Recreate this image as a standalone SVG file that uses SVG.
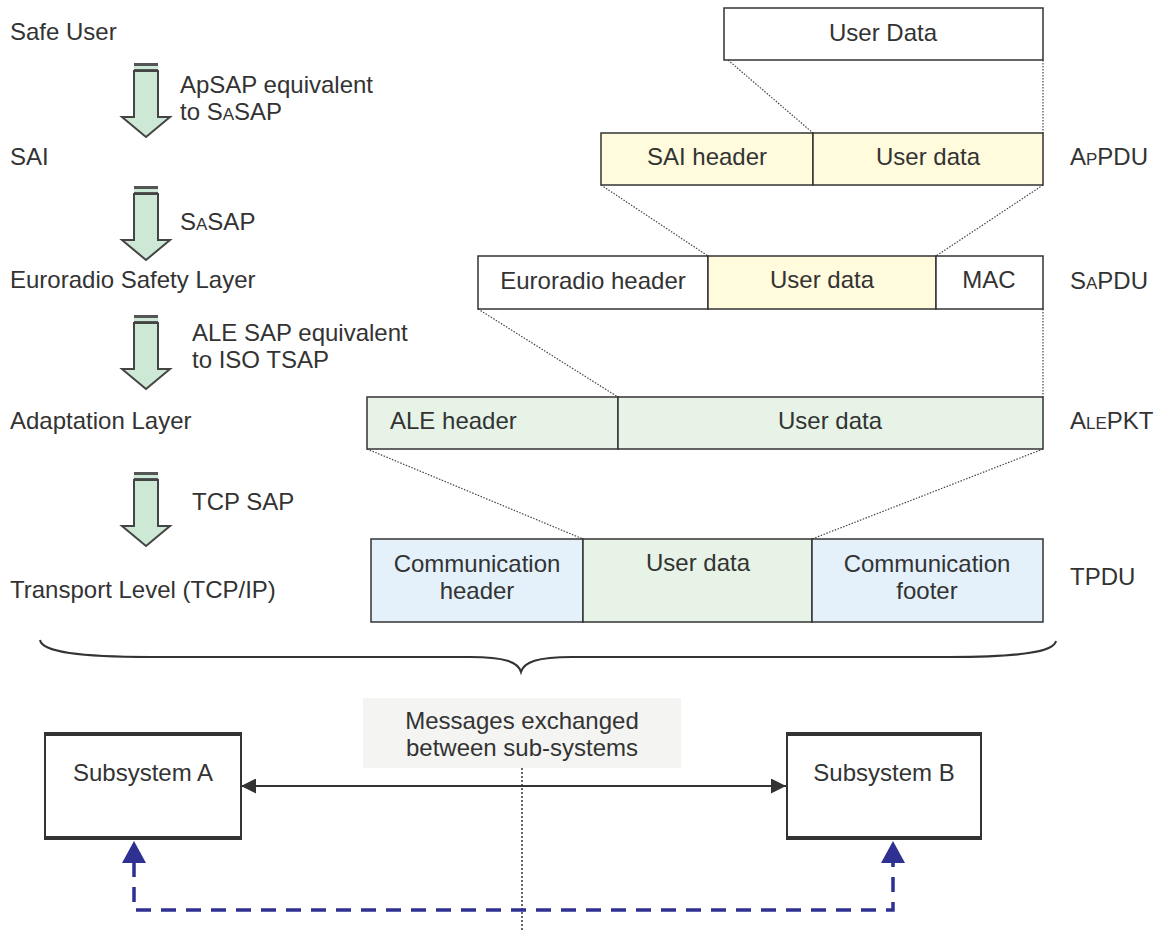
<svg xmlns="http://www.w3.org/2000/svg" width="1168" height="931" viewBox="0 0 1168 931">
<defs>
<style>
text{font-family:"Liberation Sans",Arial,sans-serif;font-size:24px;fill:#333}
.c{text-anchor:middle}
.sc{font-size:17px}
.box{stroke:#333;stroke-width:1.5}
.w{fill:#fff}
.y{fill:#fffbdc}
.g{fill:#e6f3e6}
.b{fill:#e4f1fb}
.dot{stroke:#444;stroke-width:1.2;stroke-dasharray:1.5 1.5;fill:none}
.sap{fill:#cde8d5;stroke:#444;stroke-width:2}
</style>
<marker id="ah" viewBox="0 0 10 10" refX="10" refY="5" markerWidth="19" markerHeight="15" markerUnits="userSpaceOnUse" orient="auto-start-reverse">
<path d="M0,0 L10,5 L0,10 z" fill="#333"/>
</marker>
<g id="sapArrow">
<rect x="-12" y="0" width="24" height="3" fill="#555"/>
<rect x="-12" y="3" width="24" height="3" fill="#cde8d5"/>
<rect x="-12" y="6" width="24" height="1.5" fill="#555"/>
<path class="sap" d="M-12,8 L12,8 L12,54 L24,54 L0,74 L-24,54 L-12,54 z"/>
</g>
</defs>

<g id="layer-labels">
<text x="10" y="40">Safe User</text>
<text x="10" y="165">SAI</text>
<text x="10" y="288">Euroradio Safety Layer</text>
<text x="10" y="429">Adaptation Layer</text>
<text x="10" y="598">Transport Level (TCP/IP)</text>
</g>

<g id="sap1"><use href="#sapArrow" x="146" y="63"/>
<text x="180" y="93">ApSAP equivalent</text>
<text x="180" y="120">to S<tspan class="sc">A</tspan>SAP</text></g>
<g id="sap2"><use href="#sapArrow" x="146" y="186"/>
<text x="180" y="230">S<tspan class="sc">A</tspan>SAP</text></g>
<g id="sap3"><use href="#sapArrow" x="146" y="315"/>
<text x="192" y="341">ALE SAP equivalent</text>
<text x="192" y="368">to ISO TSAP</text></g>
<g id="sap4"><use href="#sapArrow" x="146" y="472"/>
<text x="192" y="510">TCP SAP</text></g>

<g id="connectors">
<line class="dot" x1="728" y1="60" x2="813" y2="133"/>
<line class="dot" x1="1043" y1="60" x2="1043" y2="133"/>
<line class="dot" x1="601" y1="185" x2="708" y2="256"/>
<line class="dot" x1="1043" y1="185" x2="936" y2="256"/>
<line class="dot" x1="478" y1="309" x2="618" y2="397"/>
<line class="dot" x1="1043" y1="309" x2="1043" y2="397"/>
<line class="dot" x1="367" y1="449" x2="583" y2="539"/>
<line class="dot" x1="1043" y1="449" x2="812" y2="539"/>
<path d="M40,640 C42,652 80,657 150,657 L470,657 C505,657 518,662 521,672 C524,662 537,657 572,657 L950,657 C1020,657 1054,652 1056,641" fill="none" stroke="#333" stroke-width="2"/>
<line x1="522" y1="768" x2="522" y2="931" stroke="#333" stroke-width="1.5" stroke-dasharray="2 2"/>
<line x1="241" y1="786" x2="786" y2="786" stroke="#333" stroke-width="2" marker-start="url(#ah)" marker-end="url(#ah)"/>
<path d="M134,862 L134,910 L893,910 L893,862" fill="none" stroke="#2e3192" stroke-width="3.5" stroke-dasharray="15 10"/>
<path d="M134,841 L146,863 L122,863 z" fill="#2e3192"/>
<path d="M893,841 L905,863 L881,863 z" fill="#2e3192"/>
</g>

<g id="userdata"><rect class="box w" x="724" y="8" width="319" height="52"/><text class="c" x="883" y="41">User Data</text></g>

<g id="appdu">
<rect class="box y" x="601" y="133" width="212" height="52"/><text class="c" x="707" y="165">SAI header</text>
<rect class="box y" x="813" y="133" width="230" height="52"/><text class="c" x="928" y="165">User data</text>
<text x="1070" y="165">A<tspan class="sc">P</tspan>PDU</text>
</g>

<g id="sapdu">
<rect class="box w" x="478" y="256" width="230" height="53"/><text class="c" x="593" y="289">Euroradio header</text>
<rect class="box y" x="708" y="256" width="228" height="53"/><text class="c" x="822" y="288">User data</text>
<rect class="box w" x="936" y="256" width="107" height="53"/><text class="c" x="989" y="288">MAC</text>
<text x="1070" y="289">S<tspan class="sc">A</tspan>PDU</text>
</g>

<g id="alepkt">
<rect class="box g" x="367" y="397" width="251" height="52"/><text x="390" y="429">ALE header</text>
<rect class="box g" x="618" y="397" width="425" height="52"/><text class="c" x="830" y="429">User data</text>
<text x="1070" y="429">A<tspan class="sc">LE</tspan>PKT</text>
</g>

<g id="tpdu">
<rect class="box b" x="371" y="539" width="212" height="83"/><text class="c" x="477" y="572">Communication</text><text class="c" x="477" y="599">header</text>
<rect class="box g" x="583" y="539" width="229" height="83"/><text class="c" x="698" y="571">User data</text>
<rect class="box b" x="812" y="539" width="231" height="83"/><text class="c" x="927" y="572">Communication</text><text class="c" x="927" y="599">footer</text>
<text x="1070" y="585">TPDU</text>
</g>

<g id="messages"><rect x="363" y="698" width="318" height="70" fill="#f4f4f2"/>
<text class="c" x="522" y="729">Messages exchanged</text>
<text class="c" x="522" y="756">between sub-systems</text></g>

<g id="subsysA">
<rect x="45" y="734" width="196" height="104" fill="#fff" stroke="#333" stroke-width="2"/>
<line x1="44" y1="734" x2="242" y2="734" stroke="#333" stroke-width="4"/>
<line x1="44" y1="838" x2="242" y2="838" stroke="#333" stroke-width="4"/>
<text class="c" x="143" y="781">Subsystem A</text>
</g>
<g id="subsysB">
<rect x="787" y="734" width="194" height="104" fill="#fff" stroke="#333" stroke-width="2"/>
<line x1="786" y1="734" x2="982" y2="734" stroke="#333" stroke-width="4"/>
<line x1="786" y1="838" x2="982" y2="838" stroke="#333" stroke-width="4"/>
<text class="c" x="884" y="781">Subsystem B</text>
</g>
</svg>
